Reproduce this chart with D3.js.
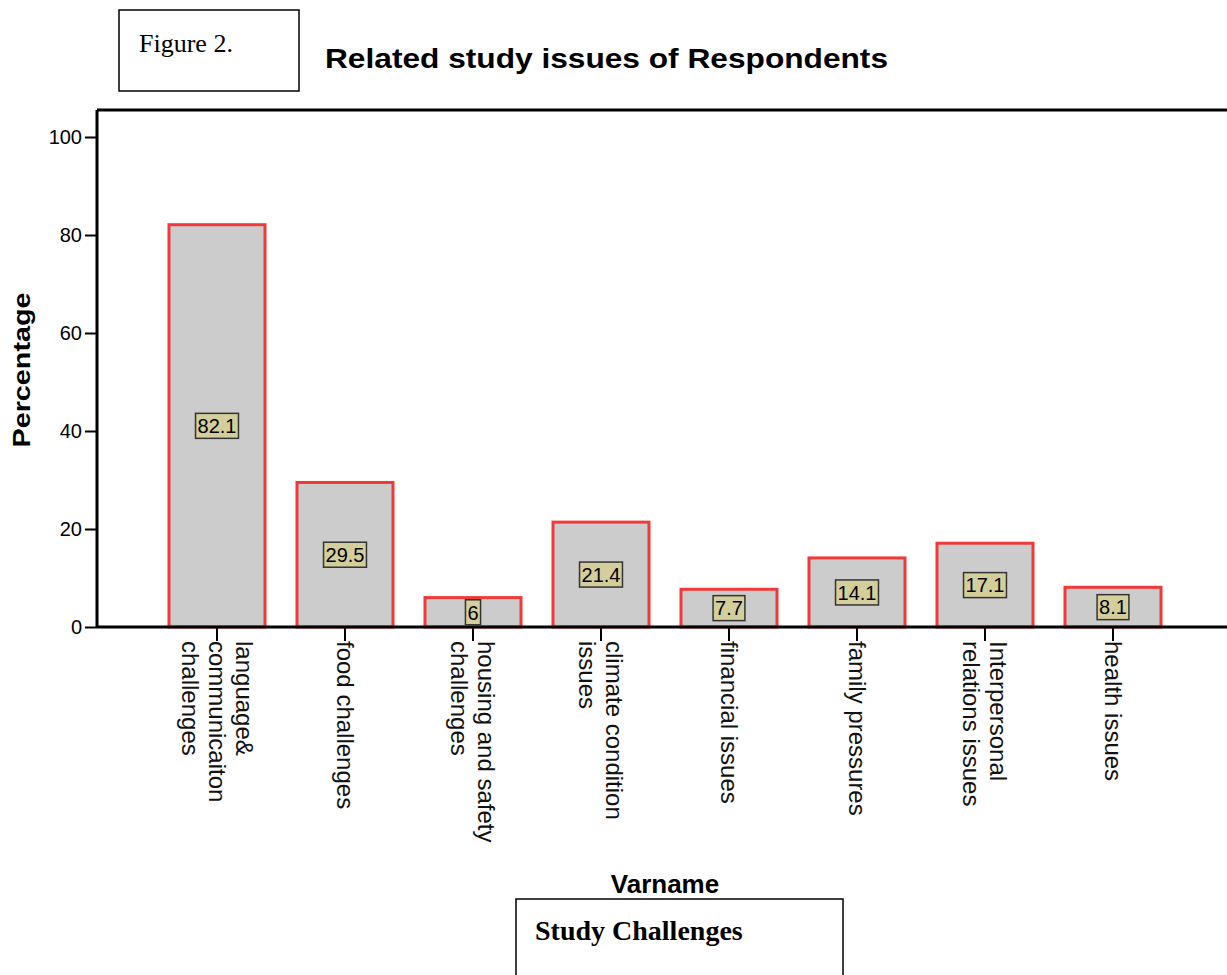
<!DOCTYPE html>
<html><head><meta charset="utf-8">
<script src="https://cdn.jsdelivr.net/npm/d3@7"></script>
<style>body{margin:0;background:#fff}svg{display:block}</style>
</head><body>
<svg id="c" width="1227" height="975"></svg>
<script>
const categories = [
  "language&\ncommunicaiton\nchallenges",
  "food challenges",
  "housing and safety\nchallenges",
  "climate condition\nissues",
  "financial issues",
  "family pressures",
  "Interpersonal\nrelations issues",
  "health issues"
];
const values = [82.1, 29.5, 6, 21.4, 7.7, 14.1, 17.1, 8.1];
const valueLabels = ["82.1", "29.5", "6", "21.4", "7.7", "14.1", "17.1", "8.1"];
const yTicks = [0, 20, 40, 60, 80, 100];
const title = "Related study issues of Respondents";
const yTitle = "Percentage";
const xTitle = "Varname";
const figLabel = "Figure 2.";
const captionLabel = "Study Challenges";

const svg = d3.select("#c");
const sans = "'Liberation Sans', Arial, sans-serif";
const serif = "'Liberation Serif', 'Times New Roman', serif";

const x = d3.scaleBand().domain(d3.range(categories.length)).range([153, 1177]).paddingInner(0.25).paddingOuter(0.125);
const y = d3.scaleLinear().domain([0, 100]).range([627, 137]);

// Figure box
svg.append("rect").attr("x", 119).attr("y", 10).attr("width", 180).attr("height", 81)
  .attr("fill", "none").attr("stroke", "#000").attr("stroke-width", 1.5);
svg.append("text").attr("x", 139).attr("y", 52).attr("font-family", serif).attr("font-size", 26).text(figLabel);

// Title
svg.append("text").attr("x", 325).attr("y", 68).attr("font-family", sans).attr("font-weight", "bold")
  .attr("font-size", 28).attr("textLength", 563).attr("lengthAdjust", "spacingAndGlyphs").text(title);

// Frame top line
svg.append("line").attr("x1", 97).attr("x2", 1230).attr("y1", 110).attr("y2", 110)
  .attr("stroke", "#000").attr("stroke-width", 3);

// Bars
svg.append("g").selectAll("rect").data(values).join("rect")
  .attr("x", (d, i) => x(i)).attr("width", x.bandwidth())
  .attr("y", d => y(d)).attr("height", d => y(0) - y(d))
  .attr("fill", "#cccccc").attr("stroke", "#f03a3a").attr("stroke-width", 3);

// Y axis
const yAxis = svg.append("g").attr("transform", "translate(97,0)")
  .call(d3.axisLeft(y).tickValues(yTicks).tickSize(12).tickPadding(3));
yAxis.select(".domain").attr("d", `M0,110V${y(0)}`).attr("stroke-width", 3);
yAxis.selectAll(".tick line").attr("stroke-width", 2);
yAxis.selectAll(".tick text").attr("font-family", sans).attr("font-size", 20).attr("fill", "#000");

// X axis
const xAxis = svg.append("g").attr("transform", `translate(0,${y(0)})`)
  .call(d3.axisBottom(x).tickSize(14).tickFormat(""));
xAxis.select(".domain").attr("d", "M97,0H1230").attr("stroke-width", 3);
xAxis.selectAll(".tick line").attr("stroke-width", 2);

// Category labels (rotated 90°)
const lineGap = 27;
const cl = svg.append("g").selectAll("g").data(categories).join("g")
  .attr("transform", (d, i) => `translate(${x(i) + x.bandwidth() / 2},641) rotate(90)`);
cl.each(function (d) {
  const lines = d.split("\n");
  const n = lines.length;
  d3.select(this).selectAll("text").data(lines).join("text")
    .attr("x", 0).attr("y", (l, j) => (j - (n - 1) / 2) * lineGap)
    .attr("dy", "0.35em").attr("font-family", sans).attr("font-size", 24).attr("fill", "#111")
    .text(l => l);
});

// Value labels
const vl = svg.append("g").selectAll("g").data(values).join("g")
  .attr("transform", (d, i) => `translate(${x(i) + x.bandwidth() / 2},${y(d / 2)})`);
vl.append("text").attr("text-anchor", "middle").attr("dy", "0.36em")
  .attr("font-family", sans).attr("font-size", 20).attr("fill", "#000")
  .text((d, i) => valueLabels[i]);
vl.each(function () {
  const g = d3.select(this);
  const bb = g.select("text").node().getBBox();
  g.insert("rect", "text").attr("x", bb.x - 2).attr("y", -12.5).attr("width", bb.width + 4).attr("height", 25)
    .attr("fill", "#d4cf9a").attr("stroke", "#333").attr("stroke-width", 1.5);
});

// Axis titles
svg.append("text").attr("transform", "translate(22,370) rotate(-90)").attr("text-anchor", "middle")
  .attr("dy", "0.35em").attr("font-family", sans).attr("font-weight", "bold").attr("font-size", 24)
  .attr("textLength", 155).attr("lengthAdjust", "spacingAndGlyphs").text(yTitle);
svg.append("text").attr("x", 665).attr("y", 893).attr("text-anchor", "middle")
  .attr("font-family", sans).attr("font-weight", "bold").attr("font-size", 26).text(xTitle);

// Caption box
svg.append("rect").attr("x", 516).attr("y", 899).attr("width", 327).attr("height", 100)
  .attr("fill", "none").attr("stroke", "#000").attr("stroke-width", 1.5);
svg.append("text").attr("x", 535).attr("y", 940).attr("font-family", serif).attr("font-weight", "bold")
  .attr("font-size", 28).text(captionLabel);
</script>
</body></html>
